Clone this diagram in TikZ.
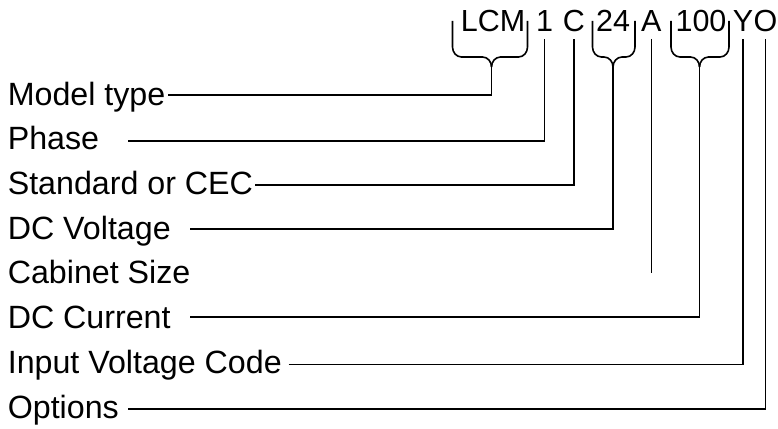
\documentclass[tikz,border=0pt]{standalone}
\usepackage{fontspec}
\setmainfont{Liberation Sans}
\usetikzlibrary{calc}

\newcommand{\codebrace}[4]{%
    \draw (#1,21) -- (#1,47) to[out=-90,in=180] (#1+9,57) -- (#3-9,57) to[out=0,in=90] (#3,67) coordinate (#4);
    \draw (#2,21) -- (#2,47) to[out=-90,in=0] (#2-9,57) -- (#3+9,57) to[out=180,in=90] (#3,67);
}

\begin{document}
\begin{tikzpicture}[x=1pt, y=-1pt, line width=1.6pt,
    rowtext/.style={anchor=base west, inner sep=0pt, font=\fontsize{32.2}{36}\selectfont},
    codetext/.style={anchor=base, inner xsep=0pt, inner ysep=6pt, text depth=0pt, font=\fontsize{30.5}{34}\selectfont}]
                        \useasboundingbox (0,0) rectangle (778,428);

                        \node[codetext] (lcm) at (493,32) {LCM};
                        \node[codetext] (one) at (544.5,32) {1};
                        \node[codetext] (std) at (574,32) {C};
                        \node[codetext] (volt) at (613,32) {24};
                        \node[codetext] (cab) at (651.3,32) {A};
                        \node[codetext] (curr) at (701,32) {100};
                        \node[codetext] (inp) at (743,32) {Y};
                        \node[codetext] (opt) at (765.5,32) {O};

                        \codebrace{452.5}{527.5}{491.5}{lcmTip}
                        \codebrace{592.5}{635}{613}{voltTip}
                        \codebrace{671}{729}{699.5}{currTip}

                        \node[rowtext] (model) at (7,105) {Model type};
                        \node[rowtext] (phase) at (7,149.5) {Phase};
                        \node[rowtext] (stdcec) at (7,194.5) {Standard or CEC};
                        \node[rowtext] (dcvolt) at (7,239) {DC Voltage};
                        \node[rowtext] (cabsize) at (7,283.5) {Cabinet Size};
                        \node[rowtext] (dccurr) at (7,328.5) {DC Current};
                        \node[rowtext] (inpvolt) at (7,373.5) {Input Voltage Code};
                        \node[rowtext] (options) at (7,418) {Options};

                        \coordinate (modelL) at (168,95);
                        \coordinate (phaseL) at (128.3,140.7);
                        \coordinate (stdL) at (255,184.7);
                        \coordinate (voltL) at (190,228.8);
                        \coordinate (cabEnd) at (651.3,272.7);
                        \coordinate (currL) at (190,316.7);
                        \coordinate (inpL) at (288.7,364.6);
                        \coordinate (optL) at (128.3,408.7);

                        \draw (modelL) -| (lcmTip);
                        \draw (phaseL) -| (one.south);
                        \draw (stdL) -| (std.south);
                        \draw (voltL) -| (voltTip);
                        \draw (cab.south) -- (cabEnd);
                        \draw (currL) -| (currTip);
                        \draw (inpL) -| (inp.south);
                        \draw (optL) -| (opt.south);
                    \end{tikzpicture}
\end{document}
